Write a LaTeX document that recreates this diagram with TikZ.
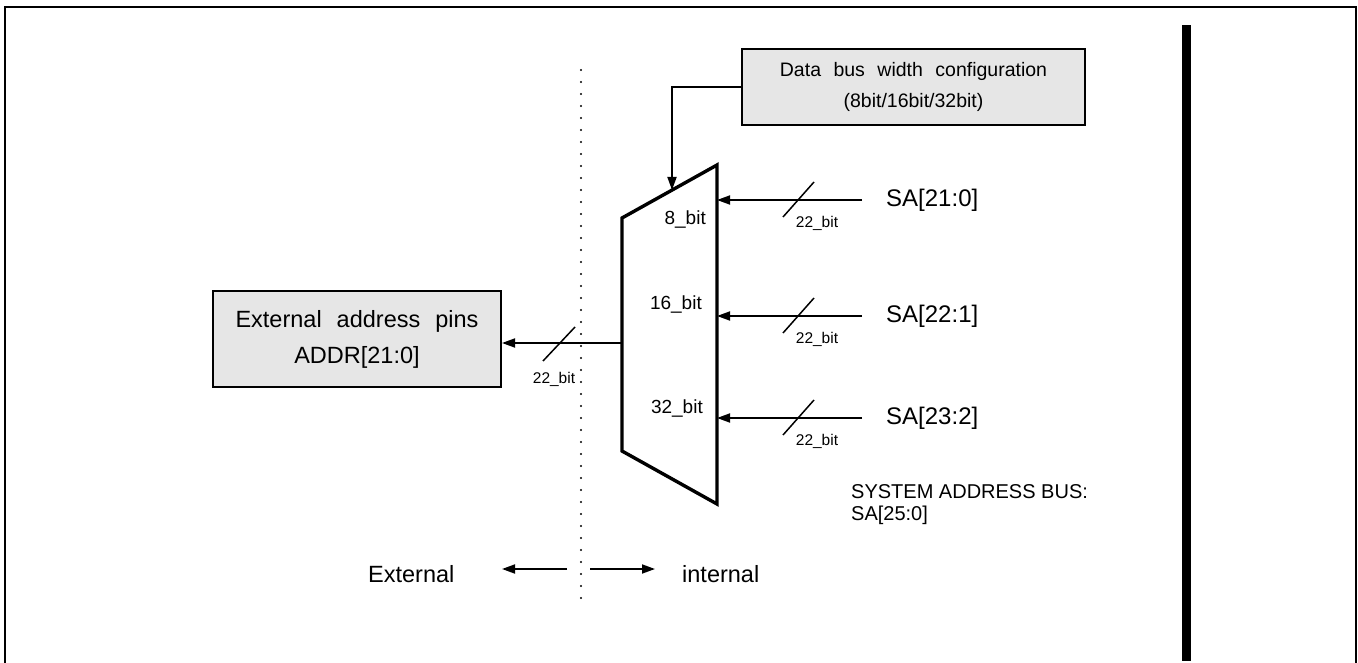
\documentclass[tikz,border=0pt]{standalone}
\usepackage{fontspec}
\setmainfont{Liberation Sans}
\newfontfamily\widefont[WordSpace=2.3]{Liberation Sans}
\usetikzlibrary{arrows.meta,calc}
\definecolor{boxgray}{HTML}{E6E6E6}

\begin{document}
\begin{tikzpicture}[x=1pt,y=-1pt,
  wire/.style={line width=1.8pt},
  tipped/.style={-{Triangle[length=13pt,width=9pt]}},
  slash/.style={line width=1.5pt},
  grayblock/.style={draw, line width=2pt, fill=boxgray, inner sep=0pt, align=center},
  buslabel/.style={font=\fontsize{15.5}{18}\selectfont, inner sep=0pt},
  portlabel/.style={font=\fontsize{19}{22}\selectfont, inner sep=0pt, anchor=east},
  salabel/.style={font=\fontsize{24}{28}\selectfont, inner sep=0pt, anchor=west},
  sidelabel/.style={font=\fontsize{23.5}{27}\selectfont, inner sep=0pt, anchor=west},
]
\useasboundingbox (0,0) rectangle (1358,663);

% outer frame (open at the bottom) and the heavy bar on the right
\draw[line width=2.5pt] (5,663) -- (5,7) -- (1356,7) -- (1356,663);
\fill (1182,25) rectangle (1191,661);

% external / internal divider
\draw[line width=2.2pt, dash pattern=on 0pt off 12pt, line cap=round] (581,70) -- (581,598);

% configuration block
\node[grayblock, minimum width=343pt, minimum height=76pt,
      font=\widefont\fontsize{19.5}{31}\selectfont] (cfg) at (913.5,87)
  {Data bus width configuration\\(8bit/16bit/32bit)};

% address multiplexer
\coordinate (tl) at (622,218);
\coordinate (tr) at (717,165);
\coordinate (br) at (717,504);
\coordinate (bl) at (622,451);
\draw[line width=3.4pt, line join=miter] (tl) -- (tr) -- (br) -- (bl) -- cycle;

\coordinate (sel) at (672,190);
\draw[wire,tipped] (cfg.west) -| (sel);

\node[portlabel] (p8)  at (706,220) {8\_bit};
\node[portlabel] (p16) at (702,305) {16\_bit};
\node[portlabel] (p32) at (703,409) {32\_bit};

% system address inputs
\foreach \nm/\yy/\txt in {a/200/{SA[21:0]}, b/316/{SA[22:1]}, c/418/{SA[23:2]}}{
  \node[salabel] (sa\nm) at (886,\yy) {\txt};
  \coordinate (in\nm) at (717,\yy);
  \coordinate (src\nm) at (862,\yy);
  \coordinate (cut\nm) at (798.5,\yy);
  \draw[wire,tipped] (src\nm) -- (in\nm);
  \draw[slash] (cut\nm) ++(-15.5,17) -- ++(31,-35);
  \node[buslabel] (w\nm) at (817,\yy+23) {22\_bit};
}

\node[font=\fontsize{20}{22}\selectfont, inner sep=0pt, anchor=north west, align=left] (sysbus) at (851,484)
  {SYSTEM ADDRESS BUS:\\SA[25:0]};

% external address pins
\node[grayblock, minimum width=288pt, minimum height=96pt,
      font=\widefont\fontsize{23.5}{36}\selectfont] (addr) at (357,339)
  {External address pins\\ADDR[21:0]};

\coordinate (mout) at (622,343);
\draw[wire,tipped] (mout) -- (addr.east |- mout);
\coordinate (cutout) at (559,344);
\draw[slash] (cutout) ++(-16,17) -- ++(32,-34);
\node[buslabel] (wout) at (554,379) {22\_bit};

% side indicators
\coordinate (extfrom) at (567,569);
\coordinate (extto) at (502,569);
\coordinate (intfrom) at (590,569);
\coordinate (intto) at (655,569);
\draw[wire,tipped] (extfrom) -- (extto);
\draw[wire,tipped] (intfrom) -- (intto);
\node[sidelabel] (ext) at (368,574) {External};
\node[sidelabel] (int) at (682,574) {internal};
\end{tikzpicture}
\end{document}
